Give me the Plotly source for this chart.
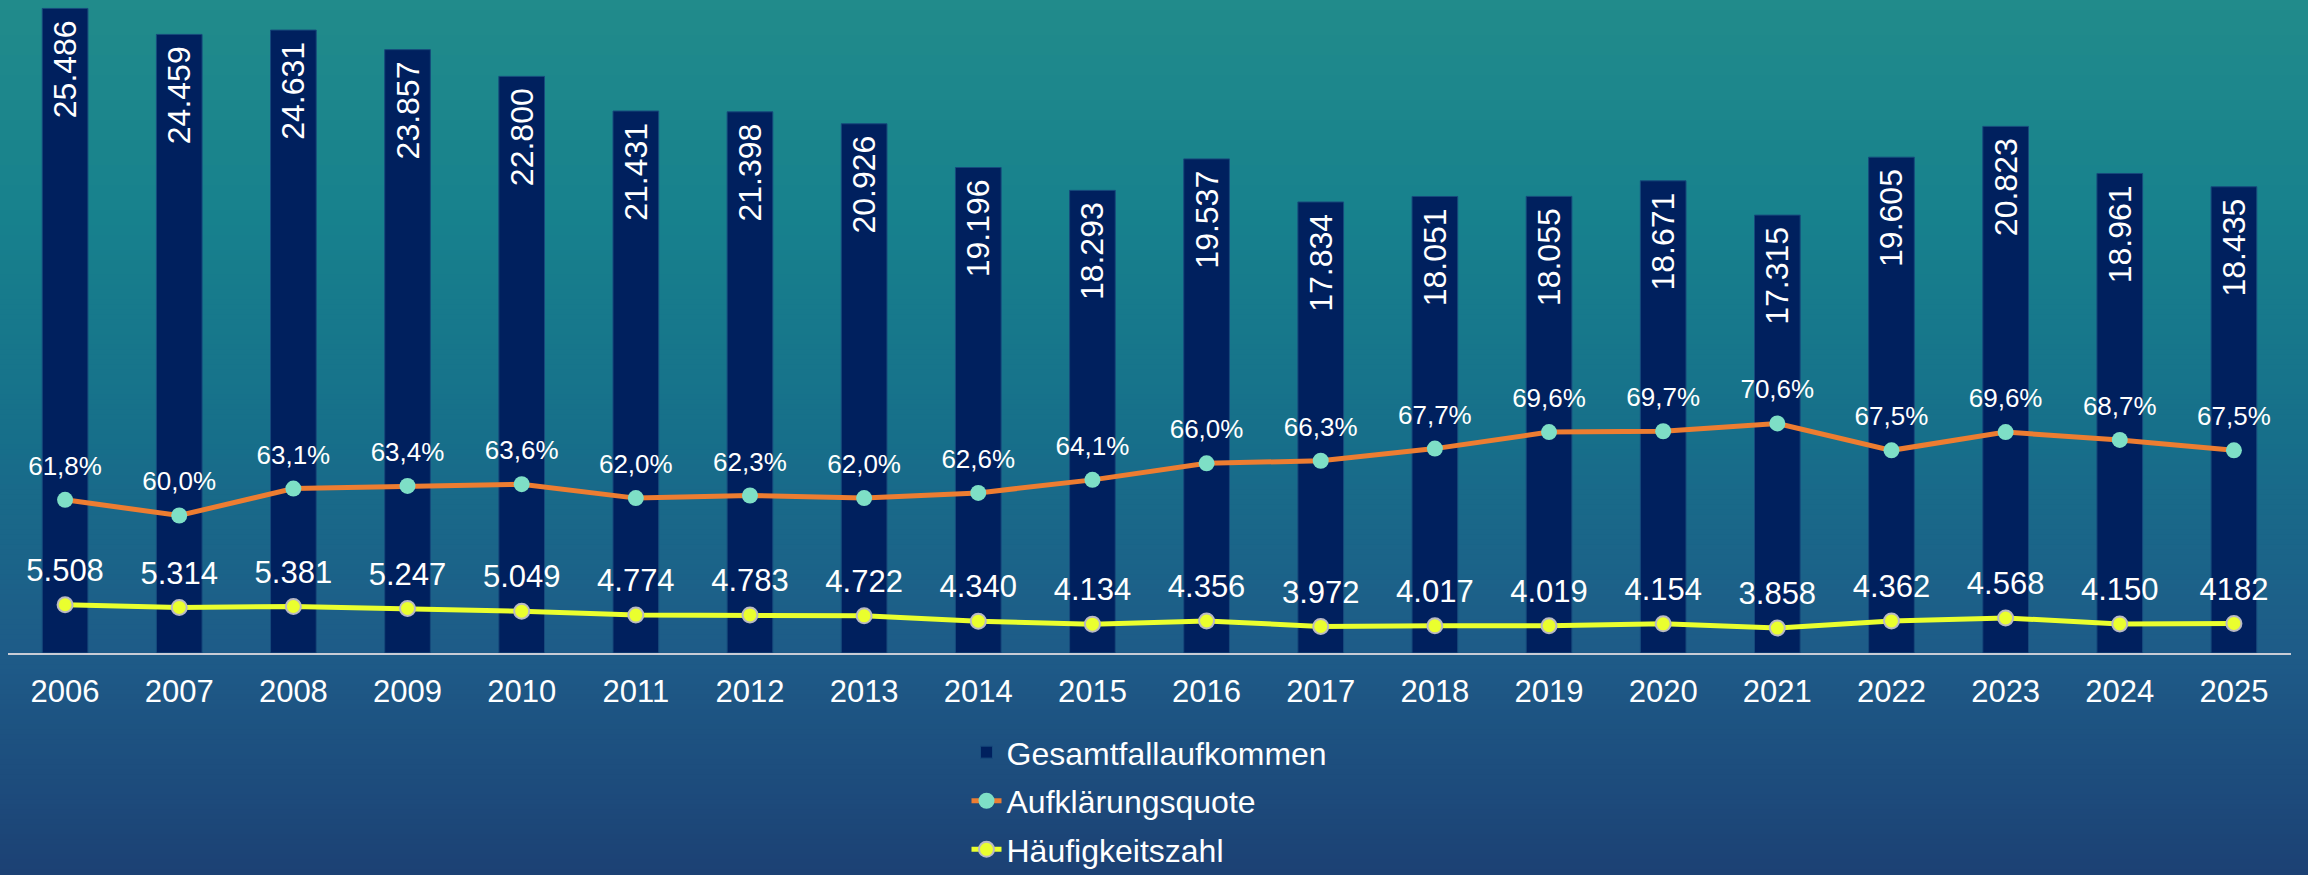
import plotly.graph_objects as go

# daten
jahre = [str(j) for j in range(2006, 2026)]
gesamtfallaufkommen = [25486, 24459, 24631, 23857, 22800, 21431, 21398, 20926, 19196, 18293,
                       19537, 17834, 18051, 18055, 18671, 17315, 19605, 20823, 18961, 18435]
aufklaerungsquote = [61.8, 60.0, 63.1, 63.4, 63.6, 62.0, 62.3, 62.0, 62.6, 64.1,
                     66.0, 66.3, 67.7, 69.6, 69.7, 70.6, 67.5, 69.6, 68.7, 67.5]
haeufigkeitszahl = [5508, 5314, 5381, 5247, 5049, 4774, 4783, 4722, 4340, 4134,
                    4356, 3972, 4017, 4019, 4154, 3858, 4362, 4568, 4150, 4182]
haeufigkeit_labels = ["5.508", "5.314", "5.381", "5.247", "5.049", "4.774", "4.783", "4.722", "4.340", "4.134",
                      "4.356", "3.972", "4.017", "4.019", "4.154", "3.858", "4.362", "4.568", "4.150", "4182"]

FONT = "Liberation Sans, Arial, sans-serif"

bar_text = [f"{v:,}".replace(",", ".") + "\u00a0" for v in gesamtfallaufkommen]
quote_text = [f"{v:.1f}%".replace(".", ",") for v in aufklaerungsquote]

fig = go.Figure()

fig.add_trace(go.Bar(
    x=jahre,
    y=gesamtfallaufkommen,
    name="Gesamtfallaufkommen",
    legendgroup="a",
    marker=dict(color="#00205E", line=dict(color="#174A7C", width=1)),
    text=bar_text,
    textposition="inside",
    insidetextanchor="end",
    textangle=-90,
    textfont=dict(color="white", size=32, family=FONT),
    hoverinfo="x+y",
))

fig.add_trace(go.Scatter(
    x=jahre,
    y=aufklaerungsquote,
    yaxis="y2",
    name="Aufklärungsquote",
    legendgroup="b",
    mode="lines+markers",
    line=dict(color="#ED7D31", width=5),
    marker=dict(color="#7EDFC6", size=16),
))

fig.add_trace(go.Scatter(
    x=jahre,
    y=haeufigkeitszahl,
    yaxis="y3",
    name="Häufigkeitszahl",
    legendgroup="c",
    mode="lines+markers",
    line=dict(color="#EAFF2E", width=5),
    marker=dict(color="#EAFF2E", size=15, line=dict(color="#B9B9C4", width=2)),
))

# beschriftungen etwas hoeher ueber den punkten (unsichtbare marker als abstand)
fig.add_trace(go.Scatter(
    x=jahre, y=aufklaerungsquote, yaxis="y2", mode="markers+text",
    marker=dict(color="rgba(0,0,0,0)", size=28),
    text=quote_text, textposition="top center",
    textfont=dict(color="white", size=26, family=FONT),
    cliponaxis=False, showlegend=False, hoverinfo="skip",
))
fig.add_trace(go.Scatter(
    x=jahre, y=haeufigkeitszahl, yaxis="y3", mode="markers+text",
    marker=dict(color="rgba(0,0,0,0)", size=24),
    text=haeufigkeit_labels, textposition="top center",
    textfont=dict(color="white", size=31, family=FONT),
    cliponaxis=False, showlegend=False, hoverinfo="skip",
))

# hintergrund mit verlauf (oben tuerkis, unten blau)
stops = [(0.0, (0x21, 0x8B, 0x8B)), (0.25, (0x17, 0x81, 0x8D)), (0.5, (0x17, 0x6F, 0x8A)),
         (0.75, (0x1E, 0x5B, 0x88)), (1.0, (0x1C, 0x41, 0x74))]
H, PLOT_H, N = 875, 653.3, 175
shapes = []
for i in range(N):
    t = (i + 0.5) / N
    for (t0, c0), (t1, c1) in zip(stops[:-1], stops[1:]):
        if t0 <= t <= t1:
            f = (t - t0) / (t1 - t0)
            c = tuple(round(a + (b - a) * f) for a, b in zip(c0, c1))
            break
    py0, py1 = i * H / N, (i + 1) * H / N + 1
    shapes.append(dict(
        type="rect", xref="paper", yref="paper", layer="below",
        x0=-0.05, x1=1.05, y0=(PLOT_H - py1) / PLOT_H, y1=(PLOT_H - py0) / PLOT_H,
        fillcolor="rgb(%d,%d,%d)" % c, line=dict(width=0),
    ))

fig.update_layout(
    width=2308,
    height=875,
    margin=dict(l=8, r=17, t=0, b=222, autoexpand=False),
    paper_bgcolor="#1C4A7E",
    plot_bgcolor="rgba(0,0,0,0)",
    shapes=shapes,
    bargap=0.6,
    font=dict(family=FONT, color="white"),
    xaxis=dict(
        range=[-0.5, 19.5],
        showline=True, linecolor="#C9CCD6", linewidth=2,
        ticks="outside", ticklen=10, tickcolor="rgba(0,0,0,0)",
        tickfont=dict(size=31, color="white"),
        showgrid=False,
    ),
    yaxis=dict(range=[0, 25820], visible=False, showgrid=False),
    yaxis2=dict(range=[44.17, 119.34], overlaying="y", visible=False, showgrid=False),
    yaxis3=dict(range=[2090, 48325], overlaying="y", visible=False, showgrid=False),
    showlegend=True,
    legend=dict(
        orientation="v", x=0.5, xanchor="center", y=-0.11, yanchor="top",
        font=dict(size=32, color="white"), bgcolor="rgba(0,0,0,0)",
        traceorder="grouped", tracegroupgap=4,
    ),
)

fig.write_html(
    "out.html",
    config={"displayModeBar": False},
    post_script="document.body.style.margin='0';document.body.style.overflow='hidden';",
)
